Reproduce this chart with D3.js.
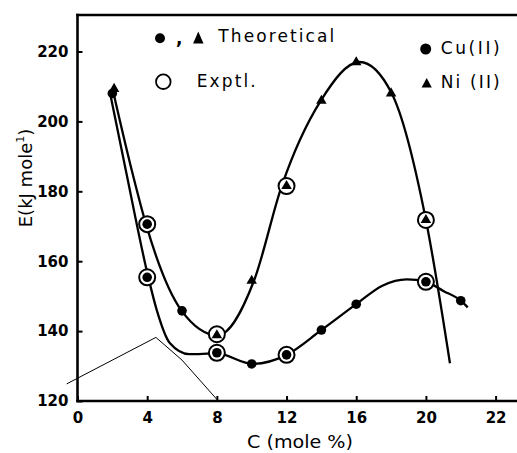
<!DOCTYPE html>
<html><head><meta charset="utf-8">
<script src="https://cdn.jsdelivr.net/npm/d3@7/dist/d3.min.js"></script>
<style>
body{margin:0;background:#fff;}
svg{display:block;}
text{font-family:"DejaVu Sans",sans-serif;fill:#000;}
</style></head>
<body>
<svg id="chart" width="517" height="453"></svg>
<script>
// ---- data ----
const xTickValues = [0, 4, 8, 12, 16, 20, 24];
const xTickLabels = ["0", "4", "8", "12", "16", "20", "22"];
const yTickValues = [120, 140, 160, 180, 200, 220];

// Cu(II) theoretical points and experimental points
const cuX = [2, 4, 8, 10, 12, 14, 16, 20, 22];
const cuY = [208, 155.4, 133.8, 130.6, 133.2, 140.3, 147.7, 154.1, 148.7];
const cuExptX = [4, 8, 12, 20];
const cuExptY = [155.4, 133.8, 133.2, 154.1];
// Cu(II) drawn curve (traced)
const cuCurveX = [1.87, 2.77, 4.06, 4.55, 5.31, 6.4, 7.99, 10.07, 12, 14, 16, 17.5, 18.9, 20, 21, 22, 22.4];
const cuCurveY = [208.1, 186.1, 155.5, 146.0, 136.5, 133.4, 133.6, 130.6, 133.2, 140.3, 147.7, 153.0, 154.8, 154.1, 151.5, 148.7, 146.8];

// Ni(II) theoretical points and experimental points
const niX = [2.1, 4, 6, 8, 10, 12, 14, 16, 18, 20];
const niY = [209.3, 170.6, 145.8, 138.8, 154.4, 181.5, 205.9, 216.9, 208, 171.8];
const niMarker = ["tri", "dot", "dot", "tri", "tri", "tri", "tri", "tri", "tri", "tri"];
const niExptX = [4, 8, 12, 20];
const niExptY = [170.6, 139.1, 181.5, 171.8];
// Ni(II) drawn curve (traced)
const niCurveX = [2.04, 3.11, 3.93, 5.98, 8.05, 10.13, 11.72, 13.96, 16.2, 18.04, 20.0, 21.38];
const niCurveY = [208.7, 186.1, 170.6, 145.8, 138.8, 154.4, 181.5, 205.9, 217.0, 208.0, 171.8, 130.8];

// thin stray line in the figure
const thinX = [-0.62, 4.5, 6.0, 8.03];
const thinY = [124.9, 138.2, 131.7, 120.3];

// ---- drawing ----
const svg = d3.select("#chart");
const x = d3.scaleLinear().domain([0, 24]).range([77.5, 495.6]);
const y = d3.scaleLinear().domain([120, 220]).range([401, 51.5]);
const yTop = 230.45, xRight = 25.23;

const zip = (a, b) => a.map((v, i) => [v, b[i]]);

// frame lines
const frame = svg.append("g").attr("stroke", "#000").attr("stroke-width", 2.6).attr("fill", "none").attr("stroke-linecap", "square");
frame.append("line").attr("x1", x(0)).attr("x2", x(0)).attr("y1", y(yTop)).attr("y2", y(120));
frame.append("line").attr("x1", x(0)).attr("x2", x(xRight)).attr("y1", y(120)).attr("y2", y(120));
frame.append("line").attr("x1", x(0)).attr("x2", x(xRight)).attr("y1", y(yTop)).attr("y2", y(yTop));

// axes
const yAxis = d3.axisLeft(y).tickValues(yTickValues).tickSizeInner(-5).tickSizeOuter(0).tickPadding(9).tickFormat(d3.format("d"));
const gy = svg.append("g").attr("transform", `translate(${x(0)},0)`).call(yAxis);
gy.select(".domain").remove();
gy.selectAll(".tick line").attr("stroke", "#000").attr("stroke-width", 2);
gy.selectAll(".tick text").attr("font-size", 15).attr("font-weight", "bold").attr("font-family", "DejaVu Sans");

const xAxis = d3.axisBottom(x).tickValues(xTickValues).tickSizeInner(-5).tickSizeOuter(0).tickPadding(11)
  .tickFormat((d, i) => xTickLabels[i]);
const gx = svg.append("g").attr("transform", `translate(0,${y(120)})`).call(xAxis);
gx.select(".domain").remove();
gx.selectAll(".tick line").attr("stroke", "#000").attr("stroke-width", 2);
gx.selectAll(".tick text").attr("font-size", 15).attr("font-weight", "bold").attr("font-family", "DejaVu Sans");

// axis titles
svg.append("text").attr("x", 247).attr("y", 448).attr("font-size", 18)
  .attr("textLength", 106).attr("lengthAdjust", "spacingAndGlyphs").text("C (mole %)");
const yt = svg.append("text").attr("transform", "translate(32,178) rotate(-90)").attr("text-anchor", "middle").attr("font-size", 18);
yt.append("tspan").text("E(kJ  mole");
yt.append("tspan").attr("font-size", 11).attr("dy", -8).text("1");
yt.append("tspan").attr("dy", 8).text(")");

// thin line
svg.append("path").datum(zip(thinX, thinY))
  .attr("d", d3.line().x(d => x(d[0])).y(d => y(d[1])))
  .attr("fill", "none").attr("stroke", "#000").attr("stroke-width", 1);

// curves
const curve = d3.line().x(d => x(d[0])).y(d => y(d[1])).curve(d3.curveMonotoneX);
svg.append("path").datum(zip(cuCurveX, cuCurveY)).attr("d", curve)
  .attr("fill", "none").attr("stroke", "#000").attr("stroke-width", 2.3);
svg.append("path").datum(zip(niCurveX, niCurveY)).attr("d", curve)
  .attr("fill", "none").attr("stroke", "#000").attr("stroke-width", 2.3);

// experimental open circles
svg.append("g").selectAll("circle").data(zip(cuExptX.concat(niExptX), cuExptY.concat(niExptY))).join("circle")
  .attr("cx", d => x(d[0])).attr("cy", d => y(d[1])).attr("r", 8)
  .attr("fill", "#fff").attr("stroke", "#000").attr("stroke-width", 2);

// theoretical markers
svg.append("g").selectAll("circle").data(zip(cuX, cuY)).join("circle")
  .attr("cx", d => x(d[0])).attr("cy", d => y(d[1])).attr("r", 4.8).attr("fill", "#000");
const tri = d3.symbol().type(d3.symbolTriangle).size(48);
const niPts = niX.map((v, i) => ({x: v, y: niY[i], m: niMarker[i]}));
svg.append("g").selectAll("path").data(niPts.filter(d => d.m === "tri")).join("path")
  .attr("d", tri).attr("transform", d => `translate(${x(d.x)},${y(d.y)})`).attr("fill", "#000");
svg.append("g").selectAll("circle").data(niPts.filter(d => d.m === "dot")).join("circle")
  .attr("cx", d => x(d.x)).attr("cy", d => y(d.y)).attr("r", 4.8).attr("fill", "#000");

// legend
const lg = svg.append("g");
lg.append("circle").attr("cx", 160).attr("cy", 38.3).attr("r", 5).attr("fill", "#000");
lg.append("text").attr("x", 176).attr("y", 44).attr("font-size", 17).attr("font-weight", "bold").text(",");
lg.append("path").attr("d", "M198.3,31.5 L203.5,43.5 L193.1,43.5 Z").attr("fill", "#000");
lg.append("text").attr("x", 218.3).attr("y", 42).attr("font-size", 17)
  .attr("textLength", 116).attr("lengthAdjust", "spacing").text("Theoretical");
lg.append("circle").attr("cx", 163.3).attr("cy", 81.7).attr("r", 7.3).attr("fill", "none").attr("stroke", "#000").attr("stroke-width", 1.8);
lg.append("text").attr("x", 196.7).attr("y", 86.7).attr("font-size", 17)
  .attr("textLength", 59).attr("lengthAdjust", "spacing").text("Exptl.");
lg.append("circle").attr("cx", 425.7).attr("cy", 49).attr("r", 5.5).attr("fill", "#000");
lg.append("text").attr("x", 440.7).attr("y", 54).attr("font-size", 17)
  .attr("textLength", 59).attr("lengthAdjust", "spacing").text("Cu(II)");
lg.append("path").attr("d", "M426.7,78 L431.8,87.5 L421.6,87.5 Z").attr("fill", "#000");
lg.append("text").attr("x", 440.7).attr("y", 88).attr("font-size", 17)
  .attr("textLength", 59).attr("lengthAdjust", "spacing").text("Ni (II)");
</script>
</body></html>
